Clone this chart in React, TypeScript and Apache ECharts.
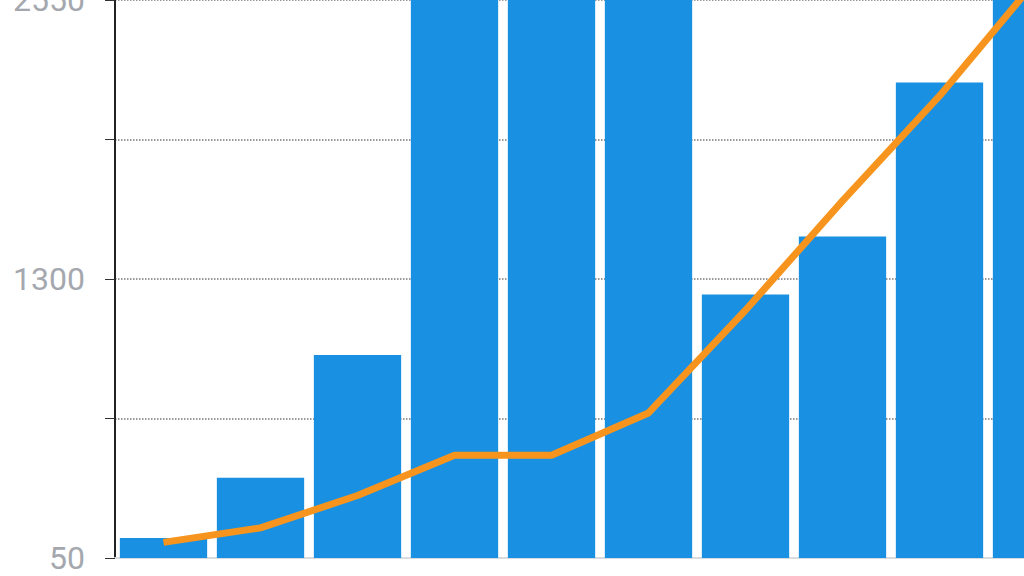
import { useEffect, useRef } from 'react'
import * as echarts from 'echarts'

// 数据
const categories = ['1', '2', '3', '4', '5', '6', '7', '8', '9', '10']
const barValues = [140, 410, 960, 2800, 2800, 2800, 1230, 1490, 2180, 2800]
const lineValues = [120, 185, 330, 510, 510, 700, 1160, 1650, 2120, 2640]
const shownTicks = [50, 1300, 2550]

const App: React.FC = () => {
  // Ref
  const chartRef = useRef<HTMLDivElement | null>(null)

  useEffect(() => {
    if (chartRef.current === null) return
    const chart = echarts.init(chartRef.current, undefined, { renderer: 'svg' })
    chart.setOption({
      animation: false,
      backgroundColor: '#ffffff',
      grid: {
        left: 115,
        right: -61,
        top: 0,
        bottom: 18,
        containLabel: false,
        outerBoundsMode: 'none'
      },
      xAxis: {
        type: 'category',
        data: categories,
        axisLine: { lineStyle: { color: '#d8dce0', width: 2 } },
        axisTick: { interval: 1, length: 12, lineStyle: { color: '#333', width: 1.5 } },
        axisLabel: { show: false }
      },
      yAxis: {
        type: 'value',
        min: 50,
        max: 2550,
        interval: 625,
        axisLine: { show: true, lineStyle: { color: '#222', width: 2 } },
        axisTick: { show: true, length: 10, lineStyle: { color: '#333' } },
        axisLabel: {
          color: '#a4a8ae',
          fontSize: 32,
          fontFamily: 'Roboto',
          margin: 30,
          formatter: (v: number) => (shownTicks.includes(v) ? String(v) : '')
        },
        splitLine: { lineStyle: { color: '#777', type: 'dotted', width: 1.5 } }
      },
      series: [
        {
          type: 'bar',
          data: barValues,
          barCategoryGap: '10%',
          itemStyle: { color: '#1a90e2' }
        },
        {
          type: 'line',
          data: lineValues,
          symbol: 'none',
          lineStyle: { color: '#f7941d', width: 7 }
        }
      ]
    })
    return () => {
      chart.dispose()
    }
  }, [])

  return (
    <div ref={chartRef} style={{ position: 'fixed', left: 0, top: 0, width: 1024, height: 576 }}></div>
  )
}

export default App
